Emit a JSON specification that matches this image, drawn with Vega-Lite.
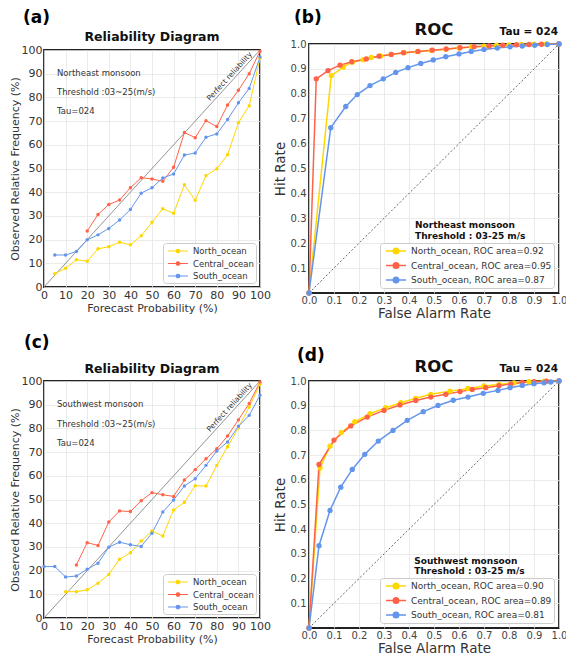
{
"$schema": "https://vega.github.io/schema/vega-lite/v6.json",
"padding": {"left": 8, "top": 8, "right": 0, "bottom": 0},
"config": {"font": "DejaVu Sans", "view": {"stroke": "#222", "strokeWidth": 1.8}, "axis": {"labelOverlap": false, "labelBound": false, "grid": true, "gridColor": "#e6e6e6", "gridWidth": 0.8, "domain": false, "ticks": false, "labelPadding": 2, "labelFlush": false, "titleFontWeight": "normal", "titleColor": "#333"}},
"datasets": {
"relA": [
{"region":"North_ocean","prob":5,"obs":5.6},{"region":"North_ocean","prob":10,"obs":7.9},{"region":"North_ocean","prob":15,"obs":11.5},{"region":"North_ocean","prob":20,"obs":10.9},{"region":"North_ocean","prob":25,"obs":16.1},{"region":"North_ocean","prob":30,"obs":17.0},{"region":"North_ocean","prob":35,"obs":18.9},{"region":"North_ocean","prob":40,"obs":17.8},{"region":"North_ocean","prob":45,"obs":21.6},{"region":"North_ocean","prob":50,"obs":27.3},{"region":"North_ocean","prob":55,"obs":33.0},{"region":"North_ocean","prob":60,"obs":31.1},{"region":"North_ocean","prob":65,"obs":43.1},{"region":"North_ocean","prob":70,"obs":36.6},{"region":"North_ocean","prob":75,"obs":47.0},{"region":"North_ocean","prob":80,"obs":49.9},{"region":"North_ocean","prob":85,"obs":55.8},{"region":"North_ocean","prob":90,"obs":69.3},{"region":"North_ocean","prob":95,"obs":76.5},{"region":"North_ocean","prob":100,"obs":96.5},
{"region":"Central_ocean","prob":20,"obs":23.6},{"region":"Central_ocean","prob":25,"obs":30.6},{"region":"Central_ocean","prob":30,"obs":34.8},{"region":"Central_ocean","prob":35,"obs":36.7},{"region":"Central_ocean","prob":40,"obs":41.9},{"region":"Central_ocean","prob":45,"obs":46.1},{"region":"Central_ocean","prob":50,"obs":45.6},{"region":"Central_ocean","prob":55,"obs":44.6},{"region":"Central_ocean","prob":60,"obs":50.5},{"region":"Central_ocean","prob":65,"obs":65.2},{"region":"Central_ocean","prob":70,"obs":63.0},{"region":"Central_ocean","prob":75,"obs":70.2},{"region":"Central_ocean","prob":80,"obs":67.7},{"region":"Central_ocean","prob":85,"obs":76.8},{"region":"Central_ocean","prob":90,"obs":83.0},{"region":"Central_ocean","prob":95,"obs":90.0},{"region":"Central_ocean","prob":100,"obs":99.5},
{"region":"South_ocean","prob":5,"obs":13.5},{"region":"South_ocean","prob":10,"obs":13.5},{"region":"South_ocean","prob":15,"obs":15.0},{"region":"South_ocean","prob":20,"obs":19.9},{"region":"South_ocean","prob":25,"obs":22.0},{"region":"South_ocean","prob":30,"obs":24.7},{"region":"South_ocean","prob":35,"obs":28.3},{"region":"South_ocean","prob":40,"obs":32.7},{"region":"South_ocean","prob":45,"obs":39.6},{"region":"South_ocean","prob":50,"obs":41.9},{"region":"South_ocean","prob":55,"obs":46.0},{"region":"South_ocean","prob":60,"obs":47.7},{"region":"South_ocean","prob":65,"obs":55.7},{"region":"South_ocean","prob":70,"obs":56.5},{"region":"South_ocean","prob":75,"obs":63.2},{"region":"South_ocean","prob":80,"obs":64.6},{"region":"South_ocean","prob":85,"obs":70.7},{"region":"South_ocean","prob":90,"obs":77.7},{"region":"South_ocean","prob":95,"obs":83.8},{"region":"South_ocean","prob":100,"obs":97.0}
],
"relC": [
{"region":"North_ocean","prob":10,"obs":11.1},{"region":"North_ocean","prob":15,"obs":11.1},{"region":"North_ocean","prob":20,"obs":11.9},{"region":"North_ocean","prob":25,"obs":14.7},{"region":"North_ocean","prob":30,"obs":18.4},{"region":"North_ocean","prob":35,"obs":24.8},{"region":"North_ocean","prob":40,"obs":27.5},{"region":"North_ocean","prob":45,"obs":32.5},{"region":"North_ocean","prob":50,"obs":36.7},{"region":"North_ocean","prob":55,"obs":34.6},{"region":"North_ocean","prob":60,"obs":45.6},{"region":"North_ocean","prob":65,"obs":48.8},{"region":"North_ocean","prob":70,"obs":55.8},{"region":"North_ocean","prob":75,"obs":55.7},{"region":"North_ocean","prob":80,"obs":64.4},{"region":"North_ocean","prob":85,"obs":72.3},{"region":"North_ocean","prob":90,"obs":80.3},{"region":"North_ocean","prob":95,"obs":89.0},{"region":"North_ocean","prob":100,"obs":98.6},
{"region":"Central_ocean","prob":15,"obs":22.4},{"region":"Central_ocean","prob":20,"obs":31.8},{"region":"Central_ocean","prob":25,"obs":30.6},{"region":"Central_ocean","prob":30,"obs":40.5},{"region":"Central_ocean","prob":35,"obs":45.2},{"region":"Central_ocean","prob":40,"obs":44.9},{"region":"Central_ocean","prob":45,"obs":49.5},{"region":"Central_ocean","prob":50,"obs":52.9},{"region":"Central_ocean","prob":55,"obs":52.0},{"region":"Central_ocean","prob":60,"obs":51.3},{"region":"Central_ocean","prob":65,"obs":58.2},{"region":"Central_ocean","prob":70,"obs":62.6},{"region":"Central_ocean","prob":75,"obs":67.2},{"region":"Central_ocean","prob":80,"obs":71.4},{"region":"Central_ocean","prob":85,"obs":76.8},{"region":"Central_ocean","prob":90,"obs":83.6},{"region":"Central_ocean","prob":95,"obs":90.5},{"region":"Central_ocean","prob":100,"obs":99.6},
{"region":"South_ocean","prob":0,"obs":21.7},{"region":"South_ocean","prob":5,"obs":21.7},{"region":"South_ocean","prob":10,"obs":17.3},{"region":"South_ocean","prob":15,"obs":17.7},{"region":"South_ocean","prob":20,"obs":20.6},{"region":"South_ocean","prob":25,"obs":23.1},{"region":"South_ocean","prob":30,"obs":29.9},{"region":"South_ocean","prob":35,"obs":32.0},{"region":"South_ocean","prob":40,"obs":30.9},{"region":"South_ocean","prob":45,"obs":30.2},{"region":"South_ocean","prob":50,"obs":35.8},{"region":"South_ocean","prob":55,"obs":44.7},{"region":"South_ocean","prob":60,"obs":49.8},{"region":"South_ocean","prob":65,"obs":55.7},{"region":"South_ocean","prob":70,"obs":58.8},{"region":"South_ocean","prob":75,"obs":64.4},{"region":"South_ocean","prob":80,"obs":70.5},{"region":"South_ocean","prob":85,"obs":74.3},{"region":"South_ocean","prob":90,"obs":80.9},{"region":"South_ocean","prob":95,"obs":85.5},{"region":"South_ocean","prob":100,"obs":94.0}
],
"rocB": [
{"s":"North_ocean, ROC area=0.92","far":0,"hit":0},{"s":"North_ocean, ROC area=0.92","far":0.089,"hit":0.873},{"s":"North_ocean, ROC area=0.92","far":0.137,"hit":0.907},{"s":"North_ocean, ROC area=0.92","far":0.173,"hit":0.927},{"s":"North_ocean, ROC area=0.92","far":0.217,"hit":0.937},{"s":"North_ocean, ROC area=0.92","far":0.249,"hit":0.946},{"s":"North_ocean, ROC area=0.92","far":0.287,"hit":0.952},{"s":"North_ocean, ROC area=0.92","far":0.329,"hit":0.958},{"s":"North_ocean, ROC area=0.92","far":0.38,"hit":0.965},{"s":"North_ocean, ROC area=0.92","far":0.433,"hit":0.969},{"s":"North_ocean, ROC area=0.92","far":0.489,"hit":0.974},{"s":"North_ocean, ROC area=0.92","far":0.547,"hit":0.979},{"s":"North_ocean, ROC area=0.92","far":0.6,"hit":0.984},{"s":"North_ocean, ROC area=0.92","far":0.65,"hit":0.988},{"s":"North_ocean, ROC area=0.92","far":0.7,"hit":0.991},{"s":"North_ocean, ROC area=0.92","far":0.75,"hit":0.994},{"s":"North_ocean, ROC area=0.92","far":0.8,"hit":0.996},{"s":"North_ocean, ROC area=0.92","far":0.85,"hit":0.998},{"s":"North_ocean, ROC area=0.92","far":0.9,"hit":0.999},{"s":"North_ocean, ROC area=0.92","far":0.95,"hit":1.0},{"s":"North_ocean, ROC area=0.92","far":1.0,"hit":1.0},
{"s":"Central_ocean, ROC area=0.95","far":0,"hit":0},{"s":"Central_ocean, ROC area=0.95","far":0.029,"hit":0.86},{"s":"Central_ocean, ROC area=0.95","far":0.076,"hit":0.893},{"s":"Central_ocean, ROC area=0.95","far":0.124,"hit":0.915},{"s":"Central_ocean, ROC area=0.95","far":0.171,"hit":0.929},{"s":"Central_ocean, ROC area=0.95","far":0.229,"hit":0.94},{"s":"Central_ocean, ROC area=0.95","far":0.28,"hit":0.951},{"s":"Central_ocean, ROC area=0.95","far":0.329,"hit":0.958},{"s":"Central_ocean, ROC area=0.95","far":0.378,"hit":0.965},{"s":"Central_ocean, ROC area=0.95","far":0.436,"hit":0.97},{"s":"Central_ocean, ROC area=0.95","far":0.493,"hit":0.975},{"s":"Central_ocean, ROC area=0.95","far":0.549,"hit":0.98},{"s":"Central_ocean, ROC area=0.95","far":0.604,"hit":0.985},{"s":"Central_ocean, ROC area=0.95","far":0.66,"hit":0.989},{"s":"Central_ocean, ROC area=0.95","far":0.72,"hit":0.992},{"s":"Central_ocean, ROC area=0.95","far":0.775,"hit":0.995},{"s":"Central_ocean, ROC area=0.95","far":0.83,"hit":0.997},{"s":"Central_ocean, ROC area=0.95","far":0.88,"hit":0.998},{"s":"Central_ocean, ROC area=0.95","far":0.93,"hit":0.999},{"s":"Central_ocean, ROC area=0.95","far":1.0,"hit":1.0},
{"s":"South_ocean, ROC area=0.87","far":0,"hit":0},{"s":"South_ocean, ROC area=0.87","far":0.087,"hit":0.664},{"s":"South_ocean, ROC area=0.87","far":0.147,"hit":0.749},{"s":"South_ocean, ROC area=0.87","far":0.193,"hit":0.797},{"s":"South_ocean, ROC area=0.87","far":0.244,"hit":0.833},{"s":"South_ocean, ROC area=0.87","far":0.297,"hit":0.86},{"s":"South_ocean, ROC area=0.87","far":0.347,"hit":0.886},{"s":"South_ocean, ROC area=0.87","far":0.396,"hit":0.905},{"s":"South_ocean, ROC area=0.87","far":0.447,"hit":0.922},{"s":"South_ocean, ROC area=0.87","far":0.497,"hit":0.936},{"s":"South_ocean, ROC area=0.87","far":0.547,"hit":0.949},{"s":"South_ocean, ROC area=0.87","far":0.6,"hit":0.96},{"s":"South_ocean, ROC area=0.87","far":0.649,"hit":0.97},{"s":"South_ocean, ROC area=0.87","far":0.7,"hit":0.978},{"s":"South_ocean, ROC area=0.87","far":0.753,"hit":0.984},{"s":"South_ocean, ROC area=0.87","far":0.804,"hit":0.989},{"s":"South_ocean, ROC area=0.87","far":0.853,"hit":0.992},{"s":"South_ocean, ROC area=0.87","far":0.903,"hit":0.995},{"s":"South_ocean, ROC area=0.87","far":0.953,"hit":0.998},{"s":"South_ocean, ROC area=0.87","far":1.0,"hit":1.0}
],
"rocD": [
{"s":"North_ocean, ROC area=0.90","far":0,"hit":0},{"s":"North_ocean, ROC area=0.90","far":0.044,"hit":0.649},{"s":"North_ocean, ROC area=0.90","far":0.084,"hit":0.736},{"s":"North_ocean, ROC area=0.90","far":0.129,"hit":0.791},{"s":"North_ocean, ROC area=0.90","far":0.183,"hit":0.835},{"s":"North_ocean, ROC area=0.90","far":0.244,"hit":0.868},{"s":"North_ocean, ROC area=0.90","far":0.307,"hit":0.892},{"s":"North_ocean, ROC area=0.90","far":0.367,"hit":0.912},{"s":"North_ocean, ROC area=0.90","far":0.427,"hit":0.93},{"s":"North_ocean, ROC area=0.90","far":0.487,"hit":0.946},{"s":"North_ocean, ROC area=0.90","far":0.564,"hit":0.959},{"s":"North_ocean, ROC area=0.90","far":0.636,"hit":0.97},{"s":"North_ocean, ROC area=0.90","far":0.7,"hit":0.98},{"s":"North_ocean, ROC area=0.90","far":0.76,"hit":0.986},{"s":"North_ocean, ROC area=0.90","far":0.82,"hit":0.992},{"s":"North_ocean, ROC area=0.90","far":0.88,"hit":0.997},{"s":"North_ocean, ROC area=0.90","far":0.94,"hit":0.999},{"s":"North_ocean, ROC area=0.90","far":1.0,"hit":1.0},
{"s":"Central_ocean, ROC area=0.89","far":0,"hit":0},{"s":"Central_ocean, ROC area=0.89","far":0.04,"hit":0.662},{"s":"Central_ocean, ROC area=0.89","far":0.1,"hit":0.761},{"s":"Central_ocean, ROC area=0.89","far":0.167,"hit":0.818},{"s":"Central_ocean, ROC area=0.89","far":0.233,"hit":0.854},{"s":"Central_ocean, ROC area=0.89","far":0.3,"hit":0.881},{"s":"Central_ocean, ROC area=0.89","far":0.364,"hit":0.903},{"s":"Central_ocean, ROC area=0.89","far":0.427,"hit":0.921},{"s":"Central_ocean, ROC area=0.89","far":0.487,"hit":0.935},{"s":"Central_ocean, ROC area=0.89","far":0.547,"hit":0.946},{"s":"Central_ocean, ROC area=0.89","far":0.604,"hit":0.957},{"s":"Central_ocean, ROC area=0.89","far":0.653,"hit":0.966},{"s":"Central_ocean, ROC area=0.89","far":0.707,"hit":0.973},{"s":"Central_ocean, ROC area=0.89","far":0.76,"hit":0.981},{"s":"Central_ocean, ROC area=0.89","far":0.807,"hit":0.988},{"s":"Central_ocean, ROC area=0.89","far":0.853,"hit":0.994},{"s":"Central_ocean, ROC area=0.89","far":0.9,"hit":0.997},{"s":"Central_ocean, ROC area=0.89","far":0.95,"hit":0.999},{"s":"Central_ocean, ROC area=0.89","far":1.0,"hit":1.0},
{"s":"South_ocean, ROC area=0.81","far":0,"hit":0},{"s":"South_ocean, ROC area=0.81","far":0.04,"hit":0.333},{"s":"South_ocean, ROC area=0.81","far":0.084,"hit":0.476},{"s":"South_ocean, ROC area=0.81","far":0.127,"hit":0.57},{"s":"South_ocean, ROC area=0.81","far":0.173,"hit":0.642},{"s":"South_ocean, ROC area=0.81","far":0.223,"hit":0.703},{"s":"South_ocean, ROC area=0.81","far":0.277,"hit":0.757},{"s":"South_ocean, ROC area=0.81","far":0.336,"hit":0.8},{"s":"South_ocean, ROC area=0.81","far":0.393,"hit":0.841},{"s":"South_ocean, ROC area=0.81","far":0.457,"hit":0.876},{"s":"South_ocean, ROC area=0.81","far":0.516,"hit":0.901},{"s":"South_ocean, ROC area=0.81","far":0.577,"hit":0.922},{"s":"South_ocean, ROC area=0.81","far":0.636,"hit":0.935},{"s":"South_ocean, ROC area=0.81","far":0.697,"hit":0.95},{"s":"South_ocean, ROC area=0.81","far":0.756,"hit":0.962},{"s":"South_ocean, ROC area=0.81","far":0.804,"hit":0.973},{"s":"South_ocean, ROC area=0.81","far":0.853,"hit":0.982},{"s":"South_ocean, ROC area=0.81","far":0.9,"hit":0.989},{"s":"South_ocean, ROC area=0.81","far":0.94,"hit":0.993},{"s":"South_ocean, ROC area=0.81","far":0.967,"hit":0.996},{"s":"South_ocean, ROC area=0.81","far":1.0,"hit":1.0}
]
},
"columns": 2,
"align": "each",
"bounds": "flush",
"center": true,
"spacing": {"row": 88, "column": 49},
"resolve": {"scale": {"color": "independent"}, "legend": {"color": "independent"}},
"concat": [
{
"width": 216, "height": 237,
"layer": [
{"data": {"values": [{}]}, "mark": {"type": "rule", "color": "#777", "strokeWidth": 0.8}, "encoding": {"x": {"datum": 0, "type": "quantitative", "scale": {"domain": [0, 100], "nice": false, "zero": false}, "axis": {"values": [0,10,20,30,40,50,60,70,80,90,100], "title": "Forecast Probability (%)", "labelFontSize": 11, "titleFontSize": 11, "labelColor": "#333", "titlePadding": 2, "labelFlush": false, "labelOverlap": false}}, "y": {"datum": 0, "type": "quantitative", "scale": {"domain": [0, 100], "nice": false, "zero": false}, "axis": {"values": [0,10,20,30,40,50,60,70,80,90,100], "title": "Observed Relative Frequency (%)", "labelFontSize": 11, "titleFontSize": 11, "labelColor": "#333", "titlePadding": 1, "labelOverlap": false}}, "x2": {"datum": 100}, "y2": {"datum": 100}}},
{"data": {"name": "relA"}, "mark": {"type": "line", "strokeWidth": 1, "point": {"filled": true, "size": 12}},
 "encoding": {
  "x": {"field": "prob", "type": "quantitative", "axis": {"values": [0,10,20,30,40,50,60,70,80,90,100], "title": "Forecast Probability (%)", "labelFontSize": 11, "titleFontSize": 11, "labelColor": "#333", "titlePadding": 2, "labelFlush": false, "labelOverlap": false}},
  "y": {"field": "obs", "type": "quantitative", "axis": {"values": [0,10,20,30,40,50,60,70,80,90,100], "title": "Observed Relative Frequency (%)", "labelFontSize": 11, "titleFontSize": 11, "labelColor": "#333", "titlePadding": 1, "labelOverlap": false}},
  "color": {"field": "region", "type": "nominal", "scale": {"domain": ["North_ocean", "Central_ocean", "South_ocean"], "range": ["#FFD700", "#FF6347", "#6495ED"]},
   "legend": {"orient": "bottom-right", "offset": 4, "title": null, "fillColor": "rgba(255,255,255,0.85)", "strokeColor": "#ccc", "cornerRadius": 3, "padding": 2, "labelFontSize": 8.5, "labelColor": "#333", "symbolType": "M-2,0H2M-0.35,0A0.35,0.35 0 1,0 0.35,0A0.35,0.35 0 1,0 -0.35,0", "symbolSize": 100, "symbolStrokeWidth": 1.2, "symbolOffset": 7, "labelOffset": 9, "rowPadding": 1.5}}
 }},
{"data": {"values": [{}]}, "mark": {"type": "text", "fontSize": 8.5, "color": "#333", "align": "left", "baseline": "middle"}, "encoding": {"text": {"value": "Northeast monsoon"}, "x": {"datum": 6, "type": "quantitative", "axis": {"values": [0,10,20,30,40,50,60,70,80,90,100], "title": "Forecast Probability (%)", "labelFontSize": 11, "titleFontSize": 11, "labelColor": "#333", "titlePadding": 2, "labelFlush": false, "labelOverlap": false}}, "y": {"datum": 90.4, "type": "quantitative", "axis": {"values": [0,10,20,30,40,50,60,70,80,90,100], "title": "Observed Relative Frequency (%)", "labelFontSize": 11, "titleFontSize": 11, "labelColor": "#333", "titlePadding": 1, "labelOverlap": false}}}},
{"data": {"values": [{}]}, "mark": {"type": "text", "fontSize": 8.5, "color": "#333", "align": "left", "baseline": "middle"}, "encoding": {"text": {"value": "Threshold :03~25(m/s)"}, "x": {"datum": 6, "type": "quantitative", "axis": {"values": [0,10,20,30,40,50,60,70,80,90,100], "title": "Forecast Probability (%)", "labelFontSize": 11, "titleFontSize": 11, "labelColor": "#333", "titlePadding": 2, "labelFlush": false, "labelOverlap": false}}, "y": {"datum": 82.4, "type": "quantitative", "axis": {"values": [0,10,20,30,40,50,60,70,80,90,100], "title": "Observed Relative Frequency (%)", "labelFontSize": 11, "titleFontSize": 11, "labelColor": "#333", "titlePadding": 1, "labelOverlap": false}}}},
{"data": {"values": [{}]}, "mark": {"type": "text", "fontSize": 8.5, "color": "#333", "align": "left", "baseline": "middle"}, "encoding": {"text": {"value": "Tau=024"}, "x": {"datum": 6, "type": "quantitative", "axis": {"values": [0,10,20,30,40,50,60,70,80,90,100], "title": "Forecast Probability (%)", "labelFontSize": 11, "titleFontSize": 11, "labelColor": "#333", "titlePadding": 2, "labelFlush": false, "labelOverlap": false}}, "y": {"datum": 74.3, "type": "quantitative", "axis": {"values": [0,10,20,30,40,50,60,70,80,90,100], "title": "Observed Relative Frequency (%)", "labelFontSize": 11, "titleFontSize": 11, "labelColor": "#333", "titlePadding": 1, "labelOverlap": false}}}},
{"data": {"values": [{}]}, "mark": {"type": "text", "fontSize": 7.5, "color": "#333", "align": "center", "baseline": "middle", "angle": 312.3}, "encoding": {"text": {"value": "Perfect reliability"}, "x": {"datum": 86.0, "type": "quantitative", "axis": {"values": [0,10,20,30,40,50,60,70,80,90,100], "title": "Forecast Probability (%)", "labelFontSize": 11, "titleFontSize": 11, "labelColor": "#333", "titlePadding": 2, "labelFlush": false, "labelOverlap": false}}, "y": {"datum": 88.8, "type": "quantitative", "axis": {"values": [0,10,20,30,40,50,60,70,80,90,100], "title": "Observed Relative Frequency (%)", "labelFontSize": 11, "titleFontSize": 11, "labelColor": "#333", "titlePadding": 1, "labelOverlap": false}}}},
{"data": {"values": [{}]}, "mark": {"type": "text", "fontSize": 12.5, "fontWeight": "bold", "color": "#111", "align": "center", "baseline": "alphabetic"}, "encoding": {"text": {"value": "Reliability Diagram"}, "x": {"datum": 50, "type": "quantitative", "axis": {"values": [0,10,20,30,40,50,60,70,80,90,100], "title": "Forecast Probability (%)", "labelFontSize": 11, "titleFontSize": 11, "labelColor": "#333", "titlePadding": 2, "labelFlush": false, "labelOverlap": false}}, "y": {"datum": 103.7, "type": "quantitative", "axis": {"values": [0,10,20,30,40,50,60,70,80,90,100], "title": "Observed Relative Frequency (%)", "labelFontSize": 11, "titleFontSize": 11, "labelColor": "#333", "titlePadding": 1, "labelOverlap": false}}}},
{"data": {"values": [{}]}, "mark": {"type": "text", "fontSize": 17, "fontWeight": "bold", "color": "#000", "align": "left", "baseline": "middle"}, "encoding": {"text": {"value": "(a)"}, "x": {"datum": -9.7, "type": "quantitative", "axis": {"values": [0,10,20,30,40,50,60,70,80,90,100], "title": "Forecast Probability (%)", "labelFontSize": 11, "titleFontSize": 11, "labelColor": "#333", "titlePadding": 2, "labelFlush": false, "labelOverlap": false}}, "y": {"datum": 113.5, "type": "quantitative", "axis": {"values": [0,10,20,30,40,50,60,70,80,90,100], "title": "Observed Relative Frequency (%)", "labelFontSize": 11, "titleFontSize": 11, "labelColor": "#333", "titlePadding": 1, "labelOverlap": false}}}}
]
},
{
"width": 250, "height": 249,
"layer": [
{"data": {"values": [{}]}, "mark": {"type": "rule", "color": "#222", "strokeWidth": 0.7, "strokeDash": [2, 2]}, "encoding": {"x": {"datum": 0, "type": "quantitative", "scale": {"domain": [0, 1], "nice": false, "zero": false}, "axis": {"values": [0,0.1,0.2,0.3,0.4,0.5,0.6,0.7,0.8,0.9,1.0], "format": ".1f", "title": "False Alarm Rate", "labelFontSize": 10, "titleFontSize": 13.5, "labelColor": "#444", "titlePadding": 1, "labelFlush": false, "labelOverlap": false}}, "y": {"datum": 0, "type": "quantitative", "scale": {"domain": [0, 1], "nice": false, "zero": false}, "axis": {"values": [0.1,0.2,0.3,0.4,0.5,0.6,0.7,0.8,0.9,1.0], "format": ".1f", "title": "Hit Rate", "labelFontSize": 10, "titleFontSize": 13.5, "labelColor": "#444", "titlePadding": 3, "labelPadding": 3, "labelOverlap": false}}, "x2": {"datum": 1}, "y2": {"datum": 1}}},
{"data": {"name": "rocB"}, "mark": {"type": "line", "strokeWidth": 1.5, "point": {"filled": true, "size": 28}},
 "encoding": {
  "x": {"field": "far", "type": "quantitative", "axis": {"values": [0,0.1,0.2,0.3,0.4,0.5,0.6,0.7,0.8,0.9,1.0], "format": ".1f", "title": "False Alarm Rate", "labelFontSize": 10, "titleFontSize": 13.5, "labelColor": "#444", "titlePadding": 1, "labelFlush": false, "labelOverlap": false}},
  "y": {"field": "hit", "type": "quantitative", "axis": {"values": [0.1,0.2,0.3,0.4,0.5,0.6,0.7,0.8,0.9,1.0], "format": ".1f", "title": "Hit Rate", "labelFontSize": 10, "titleFontSize": 13.5, "labelColor": "#444", "titlePadding": 3, "labelPadding": 3, "labelOverlap": false}},
  "color": {"field": "s", "type": "nominal", "scale": {"domain": ["North_ocean, ROC area=0.92", "Central_ocean, ROC area=0.95", "South_ocean, ROC area=0.87"], "range": ["#FFD700", "#FF6347", "#6495ED"]},
   "legend": {"orient": "bottom-right", "offset": 5, "title": null, "fillColor": "rgba(255,255,255,0.85)", "strokeColor": "#ccc", "cornerRadius": 3, "padding": 2, "labelFontSize": 9, "labelColor": "#333", "symbolType": "M-2,0H2M-0.55,0A0.55,0.55 0 1,0 0.55,0A0.55,0.55 0 1,0 -0.55,0", "symbolSize": 100, "symbolStrokeWidth": 1.5, "symbolOffset": 8, "labelOffset": 9, "rowPadding": 2.5}}
 }},
{"data": {"values": [{}]}, "mark": {"type": "text", "fontSize": 9, "fontWeight": "bold", "color": "#111", "align": "left", "baseline": "middle"}, "encoding": {"text": {"value": "Northeast monsoon"}, "x": {"datum": 0.424, "type": "quantitative", "axis": {"values": [0,0.1,0.2,0.3,0.4,0.5,0.6,0.7,0.8,0.9,1.0], "format": ".1f", "title": "False Alarm Rate", "labelFontSize": 10, "titleFontSize": 13.5, "labelColor": "#444", "titlePadding": 1, "labelFlush": false, "labelOverlap": false}}, "y": {"datum": 0.273, "type": "quantitative", "axis": {"values": [0.1,0.2,0.3,0.4,0.5,0.6,0.7,0.8,0.9,1.0], "format": ".1f", "title": "Hit Rate", "labelFontSize": 10, "titleFontSize": 13.5, "labelColor": "#444", "titlePadding": 3, "labelPadding": 3, "labelOverlap": false}}}},
{"data": {"values": [{}]}, "mark": {"type": "text", "fontSize": 9, "fontWeight": "bold", "color": "#111", "align": "left", "baseline": "middle"}, "encoding": {"text": {"value": "Threshold : 03-25 m/s"}, "x": {"datum": 0.424, "type": "quantitative", "axis": {"values": [0,0.1,0.2,0.3,0.4,0.5,0.6,0.7,0.8,0.9,1.0], "format": ".1f", "title": "False Alarm Rate", "labelFontSize": 10, "titleFontSize": 13.5, "labelColor": "#444", "titlePadding": 1, "labelFlush": false, "labelOverlap": false}}, "y": {"datum": 0.23, "type": "quantitative", "axis": {"values": [0.1,0.2,0.3,0.4,0.5,0.6,0.7,0.8,0.9,1.0], "format": ".1f", "title": "Hit Rate", "labelFontSize": 10, "titleFontSize": 13.5, "labelColor": "#444", "titlePadding": 3, "labelPadding": 3, "labelOverlap": false}}}},
{"data": {"values": [{}]}, "mark": {"type": "text", "fontSize": 16.5, "fontWeight": "bold", "color": "#111", "align": "center", "baseline": "alphabetic"}, "encoding": {"text": {"value": "ROC"}, "x": {"datum": 0.5, "type": "quantitative", "axis": {"values": [0,0.1,0.2,0.3,0.4,0.5,0.6,0.7,0.8,0.9,1.0], "format": ".1f", "title": "False Alarm Rate", "labelFontSize": 10, "titleFontSize": 13.5, "labelColor": "#444", "titlePadding": 1, "labelFlush": false, "labelOverlap": false}}, "y": {"datum": 1.035, "type": "quantitative", "axis": {"values": [0.1,0.2,0.3,0.4,0.5,0.6,0.7,0.8,0.9,1.0], "format": ".1f", "title": "Hit Rate", "labelFontSize": 10, "titleFontSize": 13.5, "labelColor": "#444", "titlePadding": 3, "labelPadding": 3, "labelOverlap": false}}}},
{"data": {"values": [{}]}, "mark": {"type": "text", "fontSize": 10.5, "fontWeight": "bold", "color": "#111", "align": "right", "baseline": "alphabetic"}, "encoding": {"text": {"value": "Tau = 024"}, "x": {"datum": 0.996, "type": "quantitative", "axis": {"values": [0,0.1,0.2,0.3,0.4,0.5,0.6,0.7,0.8,0.9,1.0], "format": ".1f", "title": "False Alarm Rate", "labelFontSize": 10, "titleFontSize": 13.5, "labelColor": "#444", "titlePadding": 1, "labelFlush": false, "labelOverlap": false}}, "y": {"datum": 1.035, "type": "quantitative", "axis": {"values": [0.1,0.2,0.3,0.4,0.5,0.6,0.7,0.8,0.9,1.0], "format": ".1f", "title": "Hit Rate", "labelFontSize": 10, "titleFontSize": 13.5, "labelColor": "#444", "titlePadding": 3, "labelPadding": 3, "labelOverlap": false}}}},
{"data": {"values": [{}]}, "mark": {"type": "text", "fontSize": 17, "fontWeight": "bold", "color": "#000", "align": "left", "baseline": "middle"}, "encoding": {"text": {"value": "(b)"}, "x": {"datum": -0.06, "type": "quantitative", "axis": {"values": [0,0.1,0.2,0.3,0.4,0.5,0.6,0.7,0.8,0.9,1.0], "format": ".1f", "title": "False Alarm Rate", "labelFontSize": 10, "titleFontSize": 13.5, "labelColor": "#444", "titlePadding": 1, "labelFlush": false, "labelOverlap": false}}, "y": {"datum": 1.104, "type": "quantitative", "axis": {"values": [0.1,0.2,0.3,0.4,0.5,0.6,0.7,0.8,0.9,1.0], "format": ".1f", "title": "Hit Rate", "labelFontSize": 10, "titleFontSize": 13.5, "labelColor": "#444", "titlePadding": 3, "labelPadding": 3, "labelOverlap": false}}}}
]
},
{
"width": 216, "height": 237,
"layer": [
{"data": {"values": [{}]}, "mark": {"type": "rule", "color": "#777", "strokeWidth": 0.8}, "encoding": {"x": {"datum": 0, "type": "quantitative", "scale": {"domain": [0, 100], "nice": false, "zero": false}, "axis": {"values": [0,10,20,30,40,50,60,70,80,90,100], "title": "Forecast Probability (%)", "labelFontSize": 11, "titleFontSize": 11, "labelColor": "#333", "titlePadding": 2, "labelFlush": false, "labelOverlap": false}}, "y": {"datum": 0, "type": "quantitative", "scale": {"domain": [0, 100], "nice": false, "zero": false}, "axis": {"values": [0,10,20,30,40,50,60,70,80,90,100], "title": "Observed Relative Frequency (%)", "labelFontSize": 11, "titleFontSize": 11, "labelColor": "#333", "titlePadding": 1, "labelOverlap": false}}, "x2": {"datum": 100}, "y2": {"datum": 100}}},
{"data": {"name": "relC"}, "mark": {"type": "line", "strokeWidth": 1, "point": {"filled": true, "size": 12}},
 "encoding": {
  "x": {"field": "prob", "type": "quantitative", "axis": {"values": [0,10,20,30,40,50,60,70,80,90,100], "title": "Forecast Probability (%)", "labelFontSize": 11, "titleFontSize": 11, "labelColor": "#333", "titlePadding": 2, "labelFlush": false, "labelOverlap": false}},
  "y": {"field": "obs", "type": "quantitative", "axis": {"values": [0,10,20,30,40,50,60,70,80,90,100], "title": "Observed Relative Frequency (%)", "labelFontSize": 11, "titleFontSize": 11, "labelColor": "#333", "titlePadding": 1, "labelOverlap": false}},
  "color": {"field": "region", "type": "nominal", "scale": {"domain": ["North_ocean", "Central_ocean", "South_ocean"], "range": ["#FFD700", "#FF6347", "#6495ED"]},
   "legend": {"orient": "bottom-right", "offset": 4, "title": null, "fillColor": "rgba(255,255,255,0.85)", "strokeColor": "#ccc", "cornerRadius": 3, "padding": 2, "labelFontSize": 8.5, "labelColor": "#333", "symbolType": "M-2,0H2M-0.35,0A0.35,0.35 0 1,0 0.35,0A0.35,0.35 0 1,0 -0.35,0", "symbolSize": 100, "symbolStrokeWidth": 1.2, "symbolOffset": 7, "labelOffset": 9, "rowPadding": 1.5}}
 }},
{"data": {"values": [{}]}, "mark": {"type": "text", "fontSize": 8.5, "color": "#333", "align": "left", "baseline": "middle"}, "encoding": {"text": {"value": "Southwest monsoon"}, "x": {"datum": 6, "type": "quantitative", "axis": {"values": [0,10,20,30,40,50,60,70,80,90,100], "title": "Forecast Probability (%)", "labelFontSize": 11, "titleFontSize": 11, "labelColor": "#333", "titlePadding": 2, "labelFlush": false, "labelOverlap": false}}, "y": {"datum": 90.2, "type": "quantitative", "axis": {"values": [0,10,20,30,40,50,60,70,80,90,100], "title": "Observed Relative Frequency (%)", "labelFontSize": 11, "titleFontSize": 11, "labelColor": "#333", "titlePadding": 1, "labelOverlap": false}}}},
{"data": {"values": [{}]}, "mark": {"type": "text", "fontSize": 8.5, "color": "#333", "align": "left", "baseline": "middle"}, "encoding": {"text": {"value": "Threshold :03~25(m/s)"}, "x": {"datum": 6, "type": "quantitative", "axis": {"values": [0,10,20,30,40,50,60,70,80,90,100], "title": "Forecast Probability (%)", "labelFontSize": 11, "titleFontSize": 11, "labelColor": "#333", "titlePadding": 2, "labelFlush": false, "labelOverlap": false}}, "y": {"datum": 82.0, "type": "quantitative", "axis": {"values": [0,10,20,30,40,50,60,70,80,90,100], "title": "Observed Relative Frequency (%)", "labelFontSize": 11, "titleFontSize": 11, "labelColor": "#333", "titlePadding": 1, "labelOverlap": false}}}},
{"data": {"values": [{}]}, "mark": {"type": "text", "fontSize": 8.5, "color": "#333", "align": "left", "baseline": "middle"}, "encoding": {"text": {"value": "Tau=024"}, "x": {"datum": 6, "type": "quantitative", "axis": {"values": [0,10,20,30,40,50,60,70,80,90,100], "title": "Forecast Probability (%)", "labelFontSize": 11, "titleFontSize": 11, "labelColor": "#333", "titlePadding": 2, "labelFlush": false, "labelOverlap": false}}, "y": {"datum": 74.0, "type": "quantitative", "axis": {"values": [0,10,20,30,40,50,60,70,80,90,100], "title": "Observed Relative Frequency (%)", "labelFontSize": 11, "titleFontSize": 11, "labelColor": "#333", "titlePadding": 1, "labelOverlap": false}}}},
{"data": {"values": [{}]}, "mark": {"type": "text", "fontSize": 7.5, "color": "#333", "align": "center", "baseline": "middle", "angle": 312.3}, "encoding": {"text": {"value": "Perfect reliability"}, "x": {"datum": 86.0, "type": "quantitative", "axis": {"values": [0,10,20,30,40,50,60,70,80,90,100], "title": "Forecast Probability (%)", "labelFontSize": 11, "titleFontSize": 11, "labelColor": "#333", "titlePadding": 2, "labelFlush": false, "labelOverlap": false}}, "y": {"datum": 88.8, "type": "quantitative", "axis": {"values": [0,10,20,30,40,50,60,70,80,90,100], "title": "Observed Relative Frequency (%)", "labelFontSize": 11, "titleFontSize": 11, "labelColor": "#333", "titlePadding": 1, "labelOverlap": false}}}},
{"data": {"values": [{}]}, "mark": {"type": "text", "fontSize": 12.5, "fontWeight": "bold", "color": "#111", "align": "center", "baseline": "alphabetic"}, "encoding": {"text": {"value": "Reliability Diagram"}, "x": {"datum": 50, "type": "quantitative", "axis": {"values": [0,10,20,30,40,50,60,70,80,90,100], "title": "Forecast Probability (%)", "labelFontSize": 11, "titleFontSize": 11, "labelColor": "#333", "titlePadding": 2, "labelFlush": false, "labelOverlap": false}}, "y": {"datum": 103.5, "type": "quantitative", "axis": {"values": [0,10,20,30,40,50,60,70,80,90,100], "title": "Observed Relative Frequency (%)", "labelFontSize": 11, "titleFontSize": 11, "labelColor": "#333", "titlePadding": 1, "labelOverlap": false}}}},
{"data": {"values": [{}]}, "mark": {"type": "text", "fontSize": 17, "fontWeight": "bold", "color": "#000", "align": "left", "baseline": "middle"}, "encoding": {"text": {"value": "(c)"}, "x": {"datum": -9.3, "type": "quantitative", "axis": {"values": [0,10,20,30,40,50,60,70,80,90,100], "title": "Forecast Probability (%)", "labelFontSize": 11, "titleFontSize": 11, "labelColor": "#333", "titlePadding": 2, "labelFlush": false, "labelOverlap": false}}, "y": {"datum": 116, "type": "quantitative", "axis": {"values": [0,10,20,30,40,50,60,70,80,90,100], "title": "Observed Relative Frequency (%)", "labelFontSize": 11, "titleFontSize": 11, "labelColor": "#333", "titlePadding": 1, "labelOverlap": false}}}}
]
},
{
"width": 250, "height": 247,
"layer": [
{"data": {"values": [{}]}, "mark": {"type": "rule", "color": "#222", "strokeWidth": 0.7, "strokeDash": [2, 2]}, "encoding": {"x": {"datum": 0, "type": "quantitative", "scale": {"domain": [0, 1], "nice": false, "zero": false}, "axis": {"values": [0,0.1,0.2,0.3,0.4,0.5,0.6,0.7,0.8,0.9,1.0], "format": ".1f", "title": "False Alarm Rate", "labelFontSize": 10, "titleFontSize": 13.5, "labelColor": "#444", "titlePadding": 1, "labelFlush": false, "labelOverlap": false}}, "y": {"datum": 0, "type": "quantitative", "scale": {"domain": [0, 1], "nice": false, "zero": false}, "axis": {"values": [0.1,0.2,0.3,0.4,0.5,0.6,0.7,0.8,0.9,1.0], "format": ".1f", "title": "Hit Rate", "labelFontSize": 10, "titleFontSize": 13.5, "labelColor": "#444", "titlePadding": 3, "labelPadding": 3, "labelOverlap": false}}, "x2": {"datum": 1}, "y2": {"datum": 1}}},
{"data": {"name": "rocD"}, "mark": {"type": "line", "strokeWidth": 1.5, "point": {"filled": true, "size": 28}},
 "encoding": {
  "x": {"field": "far", "type": "quantitative", "axis": {"values": [0,0.1,0.2,0.3,0.4,0.5,0.6,0.7,0.8,0.9,1.0], "format": ".1f", "title": "False Alarm Rate", "labelFontSize": 10, "titleFontSize": 13.5, "labelColor": "#444", "titlePadding": 1, "labelFlush": false, "labelOverlap": false}},
  "y": {"field": "hit", "type": "quantitative", "axis": {"values": [0.1,0.2,0.3,0.4,0.5,0.6,0.7,0.8,0.9,1.0], "format": ".1f", "title": "Hit Rate", "labelFontSize": 10, "titleFontSize": 13.5, "labelColor": "#444", "titlePadding": 3, "labelPadding": 3, "labelOverlap": false}},
  "color": {"field": "s", "type": "nominal", "scale": {"domain": ["North_ocean, ROC area=0.90", "Central_ocean, ROC area=0.89", "South_ocean, ROC area=0.81"], "range": ["#FFD700", "#FF6347", "#6495ED"]},
   "legend": {"orient": "bottom-right", "offset": 5, "title": null, "fillColor": "rgba(255,255,255,0.85)", "strokeColor": "#ccc", "cornerRadius": 3, "padding": 2, "labelFontSize": 9, "labelColor": "#333", "symbolType": "M-2,0H2M-0.55,0A0.55,0.55 0 1,0 0.55,0A0.55,0.55 0 1,0 -0.55,0", "symbolSize": 100, "symbolStrokeWidth": 1.5, "symbolOffset": 8, "labelOffset": 9, "rowPadding": 2.5}}
 }},
{"data": {"values": [{}]}, "mark": {"type": "text", "fontSize": 9, "fontWeight": "bold", "color": "#111", "align": "left", "baseline": "middle"}, "encoding": {"text": {"value": "Southwest monsoon"}, "x": {"datum": 0.421, "type": "quantitative", "axis": {"values": [0,0.1,0.2,0.3,0.4,0.5,0.6,0.7,0.8,0.9,1.0], "format": ".1f", "title": "False Alarm Rate", "labelFontSize": 10, "titleFontSize": 13.5, "labelColor": "#444", "titlePadding": 1, "labelFlush": false, "labelOverlap": false}}, "y": {"datum": 0.271, "type": "quantitative", "axis": {"values": [0.1,0.2,0.3,0.4,0.5,0.6,0.7,0.8,0.9,1.0], "format": ".1f", "title": "Hit Rate", "labelFontSize": 10, "titleFontSize": 13.5, "labelColor": "#444", "titlePadding": 3, "labelPadding": 3, "labelOverlap": false}}}},
{"data": {"values": [{}]}, "mark": {"type": "text", "fontSize": 9, "fontWeight": "bold", "color": "#111", "align": "left", "baseline": "middle"}, "encoding": {"text": {"value": "Threshold : 03-25 m/s"}, "x": {"datum": 0.421, "type": "quantitative", "axis": {"values": [0,0.1,0.2,0.3,0.4,0.5,0.6,0.7,0.8,0.9,1.0], "format": ".1f", "title": "False Alarm Rate", "labelFontSize": 10, "titleFontSize": 13.5, "labelColor": "#444", "titlePadding": 1, "labelFlush": false, "labelOverlap": false}}, "y": {"datum": 0.231, "type": "quantitative", "axis": {"values": [0.1,0.2,0.3,0.4,0.5,0.6,0.7,0.8,0.9,1.0], "format": ".1f", "title": "Hit Rate", "labelFontSize": 10, "titleFontSize": 13.5, "labelColor": "#444", "titlePadding": 3, "labelPadding": 3, "labelOverlap": false}}}},
{"data": {"values": [{}]}, "mark": {"type": "text", "fontSize": 16.5, "fontWeight": "bold", "color": "#111", "align": "center", "baseline": "alphabetic"}, "encoding": {"text": {"value": "ROC"}, "x": {"datum": 0.5, "type": "quantitative", "axis": {"values": [0,0.1,0.2,0.3,0.4,0.5,0.6,0.7,0.8,0.9,1.0], "format": ".1f", "title": "False Alarm Rate", "labelFontSize": 10, "titleFontSize": 13.5, "labelColor": "#444", "titlePadding": 1, "labelFlush": false, "labelOverlap": false}}, "y": {"datum": 1.038, "type": "quantitative", "axis": {"values": [0.1,0.2,0.3,0.4,0.5,0.6,0.7,0.8,0.9,1.0], "format": ".1f", "title": "Hit Rate", "labelFontSize": 10, "titleFontSize": 13.5, "labelColor": "#444", "titlePadding": 3, "labelPadding": 3, "labelOverlap": false}}}},
{"data": {"values": [{}]}, "mark": {"type": "text", "fontSize": 10.5, "fontWeight": "bold", "color": "#111", "align": "right", "baseline": "alphabetic"}, "encoding": {"text": {"value": "Tau = 024"}, "x": {"datum": 0.996, "type": "quantitative", "axis": {"values": [0,0.1,0.2,0.3,0.4,0.5,0.6,0.7,0.8,0.9,1.0], "format": ".1f", "title": "False Alarm Rate", "labelFontSize": 10, "titleFontSize": 13.5, "labelColor": "#444", "titlePadding": 1, "labelFlush": false, "labelOverlap": false}}, "y": {"datum": 1.038, "type": "quantitative", "axis": {"values": [0.1,0.2,0.3,0.4,0.5,0.6,0.7,0.8,0.9,1.0], "format": ".1f", "title": "Hit Rate", "labelFontSize": 10, "titleFontSize": 13.5, "labelColor": "#444", "titlePadding": 3, "labelPadding": 3, "labelOverlap": false}}}},
{"data": {"values": [{}]}, "mark": {"type": "text", "fontSize": 17, "fontWeight": "bold", "color": "#000", "align": "left", "baseline": "middle"}, "encoding": {"text": {"value": "(d)"}, "x": {"datum": -0.048, "type": "quantitative", "axis": {"values": [0,0.1,0.2,0.3,0.4,0.5,0.6,0.7,0.8,0.9,1.0], "format": ".1f", "title": "False Alarm Rate", "labelFontSize": 10, "titleFontSize": 13.5, "labelColor": "#444", "titlePadding": 1, "labelFlush": false, "labelOverlap": false}}, "y": {"datum": 1.101, "type": "quantitative", "axis": {"values": [0.1,0.2,0.3,0.4,0.5,0.6,0.7,0.8,0.9,1.0], "format": ".1f", "title": "Hit Rate", "labelFontSize": 10, "titleFontSize": 13.5, "labelColor": "#444", "titlePadding": 3, "labelPadding": 3, "labelOverlap": false}}}}
]
}
]
}
